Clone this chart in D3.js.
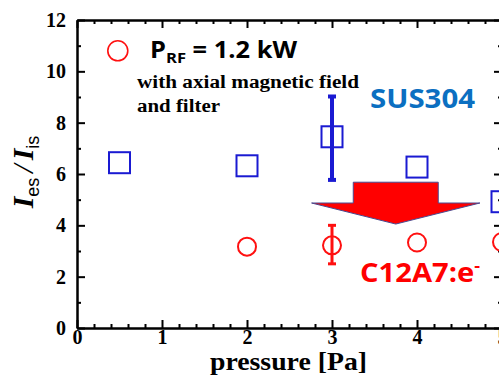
<!DOCTYPE html>
<html>
<head>
<meta charset="utf-8">
<script src="https://cdn.jsdelivr.net/npm/d3@7"></script>
<style>
  body { margin: 0; background: #fff; }
  svg { display: block; overflow: hidden; }
  .axis path, .axis line { stroke: #000; stroke-width: 2; }
  .axis text { font-family: "Liberation Serif", serif; font-weight: bold; font-size: 20px; fill: #000; }
</style>
</head>
<body>
<div id="chart"></div>
<script>

// SUS304 (blue squares)
const susPressure = [0.5, 2, 3, 4, 5];
const susRatio = [6.44, 6.32, 7.45, 6.27, 4.92];
// error bar at 3 Pa
const susErrX = [3];
const susErrLow = [5.77];
const susErrHigh = [9.02];

// C12A7:e- (red circles)
const c12Pressure = [2, 3, 4, 5];
const c12Ratio = [3.17, 3.22, 3.33, 3.35];
const c12ErrX = [3];
const c12ErrLow = [2.5];
const c12ErrHigh = [4.0];

const xTicks = [0, 1, 2, 3, 4, 5];
const yTicks = [0, 2, 4, 6, 8, 10, 12];

// big red arrow, in data units (shaft + head)
const arrowX = [3.25, 4.25, 4.25, 4.74, 3.75, 2.76, 3.25];
const arrowY = [5.68, 5.68, 4.87, 4.87, 4.05, 4.87, 4.87];

function drawChart(container) {

    d3.select(container).selectAll('*').remove();

    const margin = {top: 20, right: -3, bottom: 48, left: 77};
    const W = 499, H = 376;
    const width = W - margin.left - margin.right;
    const height = H - margin.top - margin.bottom;

    const x = d3.scaleLinear().domain([0, 5]).range([0, width]);
    const y = d3.scaleLinear().domain([0, 12]).range([height, 0]);

    const svg = d3.select(container)
        .append("svg")
        .attr("width", W)
        .attr("height", H);

    const g = svg.append("g")
        .attr("transform", "translate(" + margin.left + "," + margin.top + ")");

    const xMinor = d3.range(0, 5.01, 0.2).filter(v => Math.abs(v - Math.round(v)) > 1e-6);
    const yMinor = d3.range(1, 12, 2);

    // bottom axis, ticks pointing in
    g.append("g")
        .attr("class", "axis")
        .attr("transform", "translate(0," + height + ")")
        .call(d3.axisBottom(x).tickValues(xTicks).tickSize(-8).tickSizeOuter(0).tickPadding(2).tickFormat(d3.format("d")));
    g.append("g")
        .attr("class", "axis")
        .attr("transform", "translate(0," + height + ")")
        .call(d3.axisBottom(x).tickValues(xMinor).tickSize(-4).tickSizeOuter(0).tickFormat(""));

    // top axis
    g.append("g")
        .attr("class", "axis")
        .call(d3.axisTop(x).tickValues(xTicks).tickSize(-8).tickSizeOuter(0).tickFormat(""));
    g.append("g")
        .attr("class", "axis")
        .call(d3.axisTop(x).tickValues(xMinor).tickSize(-4).tickSizeOuter(0).tickFormat(""));

    // left axis
    g.append("g")
        .attr("class", "axis")
        .call(d3.axisLeft(y).tickValues(yTicks).tickSize(-8).tickSizeOuter(0).tickPadding(11));
    g.append("g")
        .attr("class", "axis")
        .call(d3.axisLeft(y).tickValues(yMinor).tickSize(-4).tickSizeOuter(0).tickFormat(""));

    // right axis
    g.append("g")
        .attr("class", "axis")
        .attr("transform", "translate(" + width + ",0)")
        .call(d3.axisRight(y).tickValues(yTicks).tickSize(-8).tickSizeOuter(0).tickFormat(""));
    g.append("g")
        .attr("class", "axis")
        .attr("transform", "translate(" + width + ",0)")
        .call(d3.axisRight(y).tickValues(yMinor).tickSize(-4).tickSizeOuter(0).tickFormat(""));

    // arrow
    const arrowPts = arrowX.map((d, i) => [x(d), y(arrowY[i])]);
    g.append("path")
        .attr("d", d3.line()(arrowPts) + "Z")
        .attr("fill", "#ff0000")
        .attr("stroke", "#4a4a90")
        .attr("stroke-width", 1);

    const blue = "#1a1ad2";
    const red = "#ff1010";
    const sq = 21;

    // SUS304 squares
    g.selectAll(".sq")
        .data(susPressure)
        .enter().append("rect")
        .attr("class", "sq")
        .attr("x", function (d) { return x(d) - sq / 2; })
        .attr("y", function (d, i) { return y(susRatio[i]) - sq / 2; })
        .attr("width", sq)
        .attr("height", sq)
        .attr("fill", "none")
        .attr("stroke", blue)
        .attr("stroke-width", 2);

    // C12A7 circles
    g.selectAll(".ci")
        .data(c12Pressure)
        .enter().append("circle")
        .attr("class", "ci")
        .attr("cx", function (d) { return x(d); })
        .attr("cy", function (d, i) { return y(c12Ratio[i]); })
        .attr("r", 9)
        .attr("fill", "none")
        .attr("stroke", red)
        .attr("stroke-width", 2);

    // error bars
    function errBars(xs, lo, hi, color, sw) {
        xs.forEach(function (d, i) {
            const eg = g.append("g").attr("stroke", color).attr("stroke-width", sw);
            eg.append("line").attr("x1", x(d)).attr("x2", x(d)).attr("y1", y(lo[i])).attr("y2", y(hi[i]));
            eg.append("line").attr("x1", x(d) - 4).attr("x2", x(d) + 4).attr("y1", y(lo[i])).attr("y2", y(lo[i]));
            eg.append("line").attr("x1", x(d) - 4).attr("x2", x(d) + 4).attr("y1", y(hi[i])).attr("y2", y(hi[i]));
        });
    }
    errBars(susErrX, susErrLow, susErrHigh, blue, 4);
    errBars(c12ErrX, c12ErrLow, c12ErrHigh, red, 3);

    // legend
    g.append("circle")
        .attr("cx", x(0.48))
        .attr("cy", y(10.8))
        .attr("r", 10)
        .attr("fill", "none")
        .attr("stroke", red)
        .attr("stroke-width", 1.6);

    const leg = g.append("text")
        .attr("x", 73)
        .attr("y", 38)
        .attr("textLength", 147)
        .attr("lengthAdjust", "spacingAndGlyphs")
        .style("font-family", "'Open Sans', sans-serif")
        .style("font-weight", "bold")
        .style("font-size", "23px")
        .attr("fill", "#000");
    leg.append("tspan").text("P");
    leg.append("tspan").attr("dy", 5).style("font-size", "15px").text("RF");
    leg.append("tspan").attr("dy", -5).text(" = 1.2 kW");

    g.append("text")
        .attr("x", 60)
        .attr("y", 68)
        .attr("textLength", 222)
        .attr("lengthAdjust", "spacingAndGlyphs")
        .style("font-family", "'Liberation Serif', serif")
        .style("font-weight", "bold")
        .style("font-size", "18px")
        .text("with axial magnetic field");
    g.append("text")
        .attr("x", 60)
        .attr("y", 92)
        .attr("textLength", 83)
        .attr("lengthAdjust", "spacingAndGlyphs")
        .style("font-family", "'Liberation Serif', serif")
        .style("font-weight", "bold")
        .style("font-size", "18px")
        .text("and filter");

    g.append("text")
        .attr("x", 293)
        .attr("y", 88)
        .attr("textLength", 105)
        .attr("lengthAdjust", "spacingAndGlyphs")
        .style("font-family", "'Open Sans', sans-serif")
        .style("font-weight", "bold")
        .style("font-size", "26px")
        .attr("fill", "#0b6fc1")
        .text("SUS304");

    const c12 = g.append("text")
        .attr("x", 283)
        .attr("y", 262)
        .attr("textLength", 120)
        .attr("lengthAdjust", "spacingAndGlyphs")
        .style("font-family", "'Open Sans', sans-serif")
        .style("font-weight", "bold")
        .style("font-size", "26px")
        .attr("fill", "#ff0000");
    c12.append("tspan").text("C12A7:e");
    c12.append("tspan").attr("dy", -11).style("font-size", "16px").text("-");

    // axis labels
    svg.append("text")
        .attr("x", 210)
        .attr("y", 370)
        .attr("textLength", 157)
        .attr("lengthAdjust", "spacingAndGlyphs")
        .style("font-family", "'Liberation Serif', serif")
        .style("font-weight", "bold")
        .style("font-size", "26px")
        .text("pressure [Pa]");

    const yl = svg.append("text")
        .attr("transform", "translate(33,172) rotate(-90)")
        .style("text-anchor", "middle")
        .style("font-family", "'Liberation Serif', serif")
        .style("font-weight", "bold")
        .style("font-size", "30px");
    yl.append("tspan").style("font-style", "italic").text("I");
    yl.append("tspan").attr("dy", 6).style("font-family", "'Liberation Sans', sans-serif").style("font-weight", "normal").style("font-size", "18px").text("es");
    yl.append("tspan").attr("dy", -6).attr("dx", 5).style("font-style", "italic").style("font-weight", "normal").text("/");
    yl.append("tspan").attr("dx", 4).style("font-style", "italic").text("I");
    yl.append("tspan").attr("dy", 6).style("font-family", "'Liberation Sans', sans-serif").style("font-weight", "normal").style("font-size", "18px").text("is");
}

drawChart("#chart");
</script>
</body>
</html>
